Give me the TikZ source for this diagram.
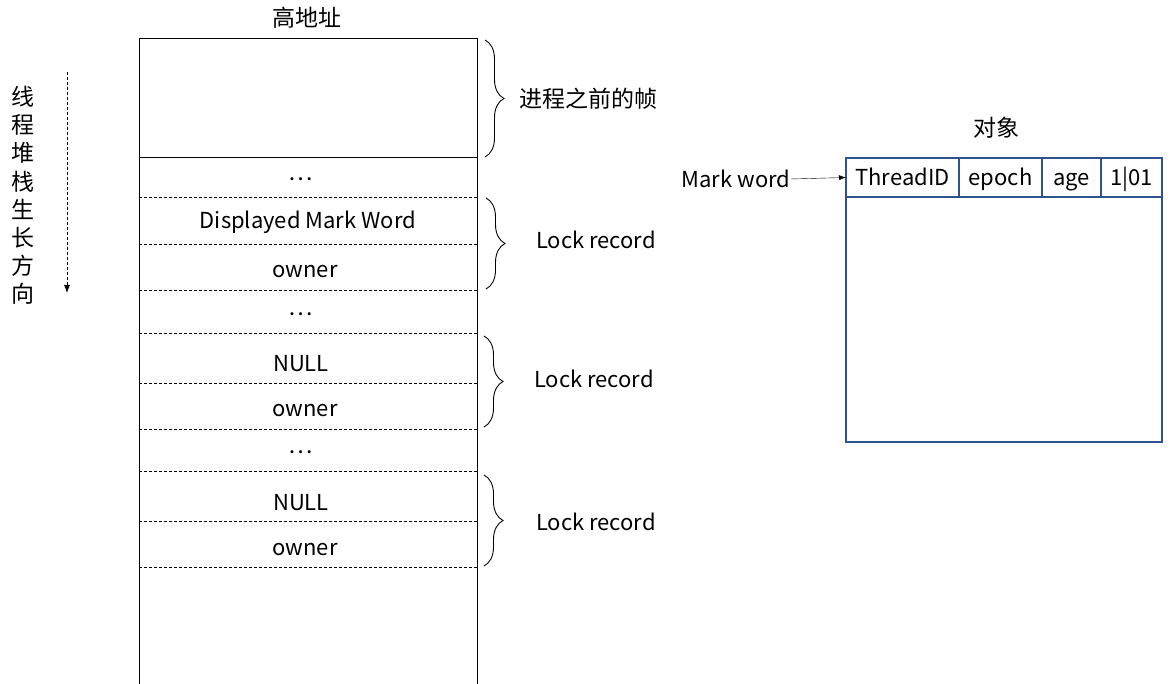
\documentclass[tikz,border=0pt]{standalone}
\usepackage{fontspec}
\setmainfont{Noto Sans CJK SC}
\usetikzlibrary{arrows.meta,decorations.pathreplacing}
\definecolor{objblue}{RGB}{47,82,143}
\tikzset{
  txt/.style={font=\fontsize{22}{24}\selectfont, inner sep=0pt},
  cjk/.style={font=\fontsize{23}{25}\selectfont, inner sep=0pt},
  slot/.style={dash pattern=on 3pt off 2pt, line width=0.8pt},
  framebrace/.style={decorate, decoration={brace, amplitude=19pt, aspect=0.5}, line width=0.9pt},
  field/.style={draw=objblue, line width=1.2pt, minimum height=39pt, inner sep=0pt, outer sep=0pt,
    anchor=north west, text height=19pt, text depth=2pt, font=\fontsize{22}{24}\selectfont}
}
\begin{document}
\begin{tikzpicture}[x=1pt,y=-1pt]
    \useasboundingbox (0,0) rectangle (1170,684);
    % stack
    \node[cjk] (high) at (307,18) {高地址};
    \draw[line width=1pt] (139,684) -- (139,39) -- (477,39) -- (477,684);
    \draw[line width=1pt] (139,158) -- (477,158);
    \foreach \y in {197,244,290,333,383,429,471,521,567}
        \draw[slot] (139,\y) -- (477,\y);
    \node[cjk] (dots1) at (301,179) {…};
    \node[txt] (disp) at (308,222) {Displayed Mark Word};
    \node[txt] (own1) at (305,272) {owner};
    \node[cjk] (dots2) at (301,314) {…};
    \node[txt] (null1) at (301,364) {NULL};
    \node[txt] (own2) at (305,411) {owner};
    \node[cjk] (dots3) at (301,452) {…};
    \node[txt] (null2) at (301,503) {NULL};
    \node[txt] (own3) at (305,550) {owner};
    % braces
    \draw[framebrace] (485,40) -- (485,157);
    \draw[framebrace] (486,198) -- (486,289);
    \draw[framebrace] (484,336) -- (484,427);
    \draw[framebrace] (484,475) -- (484,566);
    \node[cjk] (prev) at (588,99) {进程之前的帧};
    \node[txt] (lock1) at (596,240) {Lock record};
    \node[txt] (lock2) at (594,379) {Lock record};
    \node[txt] (lock3) at (596,522) {Lock record};
    % growth direction
    \coordinate (gtop) at (67,72);
    \coordinate (gbot) at (67,293);
    \draw[slot, -{Latex[length=8pt,width=6pt]}] (gtop) -- (gbot);
    \foreach \c [count=\i from 0] in {线,程,堆,栈,生,长,方,向}
        \node[cjk] (dir\i) at (23,97+28.1*\i) {\c};
    % object
    \node[cjk] (obj) at (996,128) {对象};
    \node[field, minimum width=113pt] (tid) at (846,158) {ThreadID};
    \node[field, minimum width=83pt] (epoch) at (tid.north east) {epoch};
    \node[field, minimum width=59pt] (age) at (epoch.north east) {age};
    \node[field, minimum width=61pt] (lock) at (age.north east) {1|01};
    \node[draw=objblue, line width=1.2pt, minimum width=316pt, minimum height=245pt,
        inner sep=0pt, outer sep=0pt, anchor=north west] (body) at (tid.south west) {};
    \node[txt] (mw) at (736,179) {Mark word};
    \draw[-{Latex[length=7pt,width=5pt]}] (mw.east) -- (tid.west);
\end{tikzpicture}
\end{document}
